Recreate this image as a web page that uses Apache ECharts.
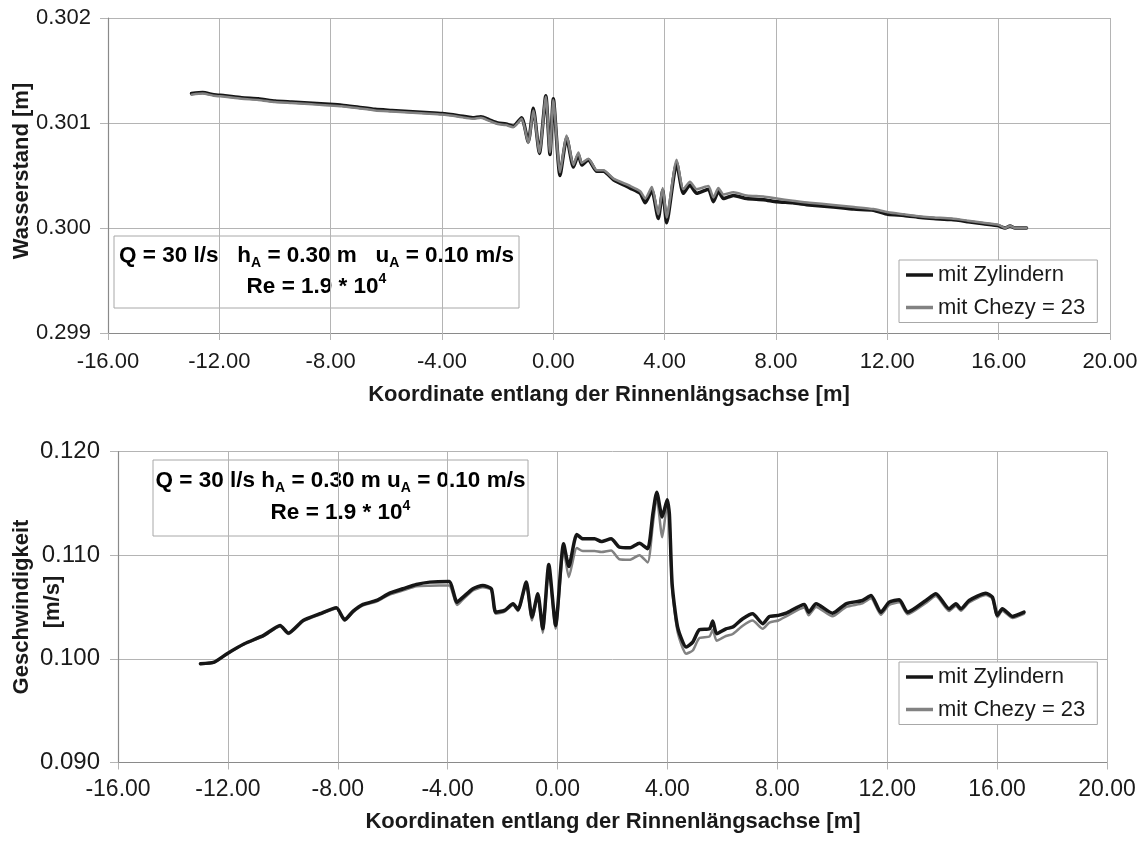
<!DOCTYPE html>
<html>
<head>
<meta charset="utf-8">
<script src="https://cdn.jsdelivr.net/npm/echarts@6/dist/echarts.min.js"></script>
<style>
  html, body { margin: 0; padding: 0; background: #fff; }
  #chart { width: 1146px; height: 841px; }
</style>
</head>
<body>
<div id="chart"></div>
<script>
// Water level along the flume axis [m]
const wsX = [-13.0, -12.6, -12.2, -11.8, -11.2, -10.6, -10.0, -9.4, -8.8, -8.2, -7.6, -7.0, -6.4, -5.8, -5.2, -4.6, -4.0, -3.4, -2.9, -2.6, -2.3, -2.0, -1.7, -1.44, -1.14, -0.90, -0.72, -0.50, -0.27, -0.12, 0.0, 0.24, 0.48, 0.72, 0.90, 1.02, 1.26, 1.56, 1.80, 2.16, 2.76, 3.12, 3.30, 3.54, 3.77, 3.93, 4.07, 4.43, 4.67, 4.91, 5.15, 5.57, 5.75, 5.93, 6.11, 6.47, 6.95, 7.55, 8.03, 8.6, 9.2, 10.06, 10.8, 11.5, 12.02, 12.6, 13.2, 13.66, 14.3, 14.9, 15.45, 16.0, 16.23, 16.41, 16.59, 17.0];
const wsZylinder = [0.30128, 0.30129, 0.30127, 0.30126, 0.30124, 0.30123, 0.30121, 0.30120, 0.30119, 0.30118, 0.30117, 0.30115, 0.30113, 0.30112, 0.30111, 0.30110, 0.30109, 0.30107, 0.30105, 0.30106, 0.30103, 0.30100, 0.30099, 0.30097, 0.30105, 0.30082, 0.30114, 0.30071, 0.30126, 0.30070, 0.30123, 0.30050, 0.30086, 0.30058, 0.30070, 0.30060, 0.30065, 0.30054, 0.30054, 0.30046, 0.30038, 0.30033, 0.30024, 0.30036, 0.30009, 0.30036, 0.30005, 0.30062, 0.30033, 0.30041, 0.30033, 0.30037, 0.30025, 0.30035, 0.30028, 0.30031, 0.30028, 0.30027, 0.30025, 0.30024, 0.30022, 0.30020, 0.30018, 0.30017, 0.30013, 0.30012, 0.30010, 0.30009, 0.30008, 0.30006, 0.30004, 0.30002, 0.30000, 0.30002, 0.30000, 0.30000];
const wsChezy = [0.30127, 0.30128, 0.30126, 0.30125, 0.30123, 0.30122, 0.30120, 0.30119, 0.30118, 0.30117, 0.30116, 0.30114, 0.30112, 0.30111, 0.30110, 0.30109, 0.30108, 0.30106, 0.30104, 0.30105, 0.30102, 0.30099, 0.30098, 0.30096, 0.30104, 0.30081, 0.30112, 0.30072, 0.30125, 0.30072, 0.30122, 0.30053, 0.30088, 0.30060, 0.30072, 0.30062, 0.30066, 0.30055, 0.30055, 0.30047, 0.30040, 0.30035, 0.30028, 0.30039, 0.30013, 0.30038, 0.30010, 0.30065, 0.30037, 0.30044, 0.30037, 0.30040, 0.30029, 0.30038, 0.30032, 0.30034, 0.30031, 0.30030, 0.30028, 0.30026, 0.30024, 0.30022, 0.30020, 0.30018, 0.30015, 0.30013, 0.30011, 0.30010, 0.30009, 0.30007, 0.30005, 0.30003, 0.30000, 0.30002, 0.30000, 0.30000];

// Flow velocity along the flume axis [m/s]
const vX = [-13.0, -12.5, -12.0, -11.4, -10.7, -10.1, -9.8, -9.26, -8.65, -8.05, -7.75, -7.44, -7.08, -6.59, -6.11, -5.62, -5.14, -4.65, -3.95, -3.66, -3.44, -3.08, -2.72, -2.41, -2.25, -1.93, -1.62, -1.44, -1.14, -0.93, -0.72, -0.54, -0.32, -0.07, 0.22, 0.41, 0.70, 0.92, 1.35, 1.59, 1.95, 2.25, 2.62, 2.98, 3.28, 3.47, 3.61, 3.81, 3.99, 4.07, 4.17, 4.37, 4.68, 4.92, 5.16, 5.53, 5.65, 5.79, 6.13, 6.38, 6.74, 7.10, 7.47, 7.71, 8.04, 8.32, 8.98, 9.14, 9.41, 10.01, 10.50, 11.10, 11.41, 11.77, 12.07, 12.44, 12.74, 13.41, 13.77, 14.25, 14.50, 14.68, 14.98, 15.59, 15.83, 16.01, 16.19, 16.56, 16.98];
const vZylinder = [0.09953, 0.09968, 0.10055, 0.10146, 0.10226, 0.10322, 0.10248, 0.10370, 0.10435, 0.10493, 0.10377, 0.10460, 0.10525, 0.10563, 0.10634, 0.10676, 0.10717, 0.10740, 0.10746, 0.10547, 0.10595, 0.10676, 0.10708, 0.10676, 0.10450, 0.10467, 0.10531, 0.10476, 0.10740, 0.10402, 0.10628, 0.10290, 0.10910, 0.10322, 0.11110, 0.10891, 0.11200, 0.11158, 0.11158, 0.11132, 0.11158, 0.11077, 0.11071, 0.11116, 0.11062, 0.11399, 0.11608, 0.11367, 0.11534, 0.11399, 0.10724, 0.10306, 0.10113, 0.10161, 0.10281, 0.10290, 0.10364, 0.10242, 0.10290, 0.10306, 0.10387, 0.10435, 0.10338, 0.10409, 0.10419, 0.10440, 0.10525, 0.10450, 0.10531, 0.10440, 0.10531, 0.10563, 0.10611, 0.10450, 0.10547, 0.10570, 0.10450, 0.10563, 0.10628, 0.10483, 0.10531, 0.10483, 0.10563, 0.10633, 0.10595, 0.10419, 0.10483, 0.10409, 0.10450];
const vChezy = [0.09950, 0.09965, 0.10052, 0.10142, 0.10220, 0.10315, 0.10240, 0.10362, 0.10427, 0.10485, 0.10368, 0.10450, 0.10515, 0.10552, 0.10620, 0.10660, 0.10700, 0.10705, 0.10708, 0.10520, 0.10575, 0.10660, 0.10690, 0.10665, 0.10435, 0.10455, 0.10520, 0.10462, 0.10725, 0.10370, 0.10610, 0.10250, 0.10880, 0.10290, 0.11060, 0.10788, 0.11070, 0.11040, 0.11040, 0.11030, 0.11045, 0.10960, 0.10955, 0.11000, 0.10930, 0.11300, 0.11560, 0.11174, 0.11480, 0.11350, 0.10690, 0.10260, 0.10050, 0.10080, 0.10200, 0.10215, 0.10280, 0.10175, 0.10220, 0.10240, 0.10320, 0.10370, 0.10290, 0.10350, 0.10370, 0.10410, 0.10495, 0.10420, 0.10500, 0.10410, 0.10500, 0.10535, 0.10585, 0.10425, 0.10520, 0.10545, 0.10430, 0.10540, 0.10605, 0.10462, 0.10510, 0.10465, 0.10545, 0.10615, 0.10580, 0.10400, 0.10465, 0.10395, 0.10435];

const NAME_ZYL = 'mit Zylindern';
const NAME_CHEZY = 'mit Chezy = 23';

const FONT = '"Liberation Sans", Arial, Helvetica, sans-serif';
const TXT = '#1a1a1a';
const AXIS_GREY = '#8a8a8a';
const GRID_GREY = '#b4b4b4';
const BLACK_LINE = '#161616';
const GREY_LINE = '#828282';

const pairs = (xs, ys) => xs.map((x, i) => [x, ys[i]]);

function xAxisCfg(gridIndex, fontSize, margin) {
  return {
    type: 'value', gridIndex, min: -16, max: 20, interval: 4,
    axisLine: { show: true, onZero: false, lineStyle: { color: AXIS_GREY, width: 1.2 } },
    axisTick: { show: true, length: 7, lineStyle: { color: GRID_GREY } },
    splitLine: { show: true, lineStyle: { color: GRID_GREY, width: 1 } },
    axisLabel: { fontFamily: FONT, fontSize, color: TXT, margin, formatter: v => v.toFixed(2) }
  };
}
function yAxisCfg(gridIndex, min, max, interval, fontSize, margin) {
  return {
    type: 'value', gridIndex, min, max, interval,
    axisLine: { show: true, onZero: false, lineStyle: { color: AXIS_GREY, width: 1.2 } },
    axisTick: { show: true, length: 8, lineStyle: { color: GRID_GREY } },
    splitLine: { show: true, lineStyle: { color: GRID_GREY, width: 1 } },
    axisLabel: { fontFamily: FONT, fontSize, color: TXT, margin, formatter: v => v.toFixed(3) }
  };
}
function lineSeries(name, idx, data, color, width, z) {
  return {
    name, type: 'line', xAxisIndex: idx, yAxisIndex: idx, data,
    showSymbol: false, symbol: 'none', smooth: 0.2, z,
    lineStyle: { color, width, join: 'round', cap: 'round' },
    itemStyle: { color },
    emphasis: { disabled: true }
  };
}
function legendCfg(top) {
  return {
    orient: 'vertical', left: 899, top,
    data: [
      { name: NAME_ZYL, icon: 'rect', itemStyle: { color: BLACK_LINE } },
      { name: NAME_CHEZY, icon: 'rect', itemStyle: { color: GREY_LINE } }
    ],
    itemWidth: 27, itemHeight: 3.5, itemGap: 10.5,
    padding: [4, 12, 4, 7],
    backgroundColor: '#fff', borderColor: '#a8a8a8', borderWidth: 1, borderRadius: 0,
    textStyle: { fontFamily: FONT, fontSize: 22, color: TXT },
    selectedMode: false
  };
}

const sub = { fontFamily: FONT, fontSize: 14, fontWeight: 'bold', color: TXT, verticalAlign: 'bottom', lineHeight: 14 };
const sup = { fontFamily: FONT, fontSize: 14, fontWeight: 'bold', color: TXT, verticalAlign: 'top', lineHeight: 14 };
const norm = { fontFamily: FONT, fontSize: 22.5, fontWeight: 'bold', color: TXT, lineHeight: 28 };

function infoBox(x, y, w, h, line1) {
  return {
    type: 'group', z: 100,
    children: [
      { type: 'rect', shape: { x, y, width: w, height: h },
        style: { fill: '#fff', stroke: '#a8a8a8', lineWidth: 1 } },
      { type: 'text', x: x + w / 2, y: y + h * 0.28,
        style: { text: line1, rich: { n: norm, s: sub }, align: 'center', verticalAlign: 'middle' } },
      { type: 'text', x: x + w / 2, y: y + h * 0.7,
        style: { text: '{n|Re = 1.9 * 10}{p|4}', rich: { n: norm, p: sup }, align: 'center', verticalAlign: 'middle' } }
    ]
  };
}
function title(text, x, y, rot) {
  return {
    type: 'text', x, y, rotation: rot || 0, z: 100,
    style: { text, fontFamily: FONT, fontSize: 22, fontWeight: 'bold', fill: TXT, align: 'center', verticalAlign: 'middle' }
  };
}

const chart = echarts.init(document.getElementById('chart'), null, { renderer: 'canvas' });
chart.setOption({
  backgroundColor: '#fff',
  animation: false,
  grid: [
    { left: 108, top: 18, width: 1002, height: 315 },
    { left: 118, top: 451.5, width: 989, height: 311 }
  ],
  xAxis: [xAxisCfg(0, 22, 18), xAxisCfg(1, 23, 16)],
  yAxis: [yAxisCfg(0, 0.299, 0.302, 0.001, 22, 17), yAxisCfg(1, 0.09, 0.12, 0.01, 24, 18)],
  legend: [legendCfg(260), legendCfg(662)],
  series: [
    lineSeries(NAME_ZYL, 0, pairs(wsX, wsZylinder), BLACK_LINE, 3.5, 2),
    lineSeries(NAME_CHEZY, 0, pairs(wsX, wsChezy), GREY_LINE, 2.5, 3),
    lineSeries(NAME_CHEZY, 1, pairs(vX, vChezy), GREY_LINE, 2.5, 2),
    lineSeries(NAME_ZYL, 1, pairs(vX, vZylinder), BLACK_LINE, 3.5, 3)
  ],
  graphic: [
    infoBox(114, 236, 405, 72, '{n|Q = 30 l/s   h}{s|A}{n| = 0.30 m   u}{s|A}{n| = 0.10 m/s}'),
    infoBox(153, 460, 375, 76, '{n|Q = 30 l/s h}{s|A}{n| = 0.30 m u}{s|A}{n| = 0.10 m/s}'),
    title('Koordinate entlang der Rinnenlängsachse [m]', 609, 395),
    title('Koordinaten entlang der Rinnenlängsachse [m]', 613, 822),
    title('Wasserstand [m]', 22, 171, Math.PI / 2),
    title('Geschwindigkeit', 22, 607, Math.PI / 2),
    title('[m/s]', 53, 602, Math.PI / 2)
  ]
});
</script>
</body>
</html>
